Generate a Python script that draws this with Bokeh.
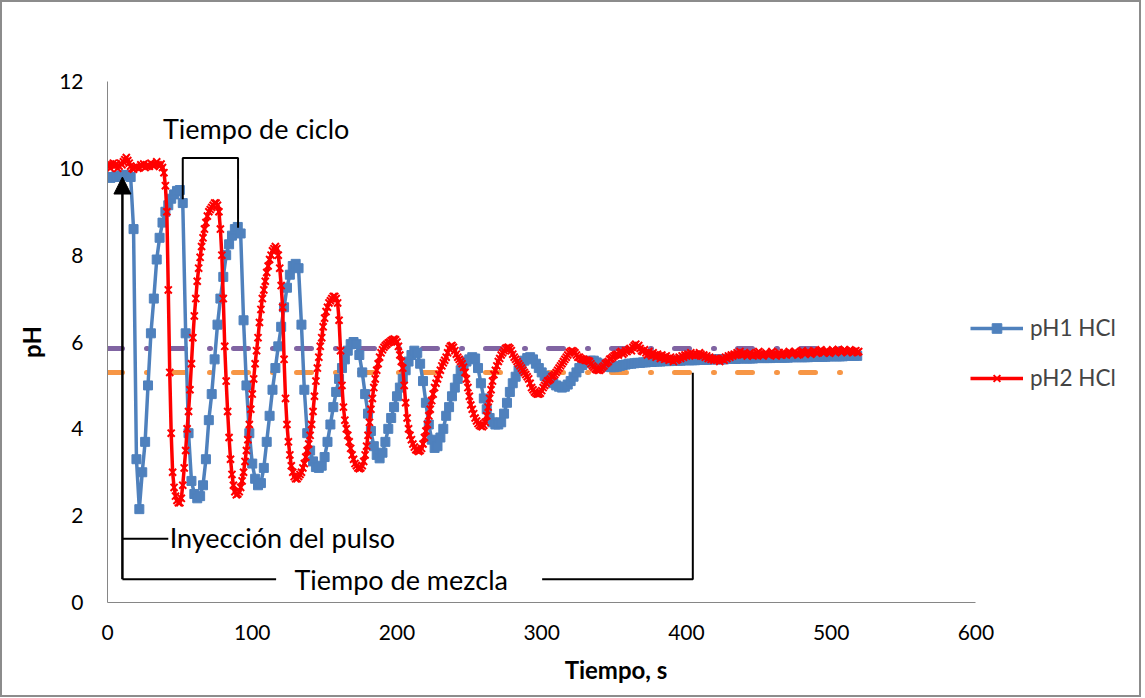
from bokeh.plotting import figure
from bokeh.models import Legend, LegendItem, FixedTicker, Arrow, NormalHead, Range1d
from bokeh.embed import file_html
from bokeh.resources import INLINE
from bokeh.core.properties import value

FONT = "Lato"

# pH1 HCl, one reading every 2 s starting at t = 0
ph1_hcl = [
    9.80, 9.78, 9.80, 9.82, 9.80, 9.84, 9.85, 9.83, 9.80, 8.60,
    3.30, 2.15, 3.00, 3.70, 5.00, 6.20, 7.00, 7.90, 8.40, 8.75,
    9.00, 9.15, 9.30, 9.40, 9.48, 9.50, 9.20, 6.20, 3.90, 2.80,
    2.50, 2.40, 2.45, 2.70, 3.30, 4.20, 4.80, 5.60, 6.40, 7.00,
    7.50, 8.00, 8.25, 8.45, 8.60, 8.65, 8.50, 6.50, 5.00, 3.90,
    3.20, 2.85, 2.70, 2.75, 3.10, 3.70, 4.30, 4.90, 5.40, 5.90,
    6.35, 6.80, 7.25, 7.55, 7.75, 7.80, 7.70, 6.40, 4.90, 3.90,
    3.50, 3.25, 3.12, 3.10, 3.15, 3.35, 3.70, 4.10, 4.50, 4.85,
    5.15, 5.40, 5.60, 5.80, 5.95, 6.00, 5.95, 5.70, 5.30, 4.80,
    4.35, 3.95, 3.60, 3.40, 3.32, 3.45, 3.70, 4.00, 4.25, 4.50,
    4.75, 4.95, 5.15, 5.35, 5.55, 5.70, 5.80, 5.75, 5.50, 5.10,
    4.60, 4.10, 3.75, 3.56, 3.60, 3.80, 4.00, 4.30, 4.50, 4.75,
    4.95, 5.15, 5.35, 5.48, 5.55, 5.60, 5.65, 5.62, 5.40, 5.05,
    4.70, 4.45, 4.25, 4.15, 4.10, 4.10, 4.15, 4.35, 4.60, 4.85,
    5.05, 5.20, 5.35, 5.48, 5.57, 5.63, 5.65, 5.60, 5.50, 5.40,
    5.30, 5.22, 5.18, 5.10, 5.05, 5.00, 4.97, 4.95, 4.97, 5.02,
    5.10, 5.20, 5.30, 5.40, 5.47, 5.52, 5.55, 5.57, 5.57, 5.53,
    5.50, 5.47, 5.45, 5.43, 5.42, 5.42, 5.43, 5.45, 5.47, 5.48,
    5.50, 5.50, 5.51, 5.52, 5.52, 5.53, 5.53, 5.54, 5.54, 5.55,
    5.55, 5.55, 5.56, 5.56, 5.56, 5.57, 5.57, 5.57, 5.57, 5.58,
    5.58, 5.58, 5.58, 5.58, 5.59, 5.59, 5.59, 5.59, 5.60, 5.60,
    5.60, 5.60, 5.60, 5.60, 5.61, 5.61, 5.61, 5.61, 5.62, 5.62,
    5.62, 5.62, 5.62, 5.62, 5.63, 5.63, 5.63, 5.63, 5.63, 5.63,
    5.64, 5.64, 5.64, 5.64, 5.64, 5.64, 5.65, 5.65, 5.65, 5.65,
    5.65, 5.65, 5.65, 5.66, 5.66, 5.66, 5.66, 5.66, 5.66, 5.67,
    5.67, 5.67, 5.67, 5.67, 5.67, 5.68, 5.68, 5.68, 5.68, 5.68,
]
time_ph1 = [2 * i for i in range(len(ph1_hcl))]

# pH2 HCl, one reading every second starting at t = 0
ph2_hcl = [
    10.05, 10.10, 10.00, 10.08, 10.12, 10.05, 10.10, 10.00, 10.05, 10.12,
    10.08, 10.15, 10.20, 10.25, 10.18, 10.12, 10.05, 10.00, 9.98, 10.02,
    10.05, 10.00, 10.02, 10.08, 10.05, 10.10, 10.02, 10.05, 10.08, 10.05,
    10.12, 10.08, 10.05, 10.10, 10.15, 10.08, 10.05, 10.10, 10.02, 9.90,
    9.60, 9.00, 7.20, 5.30, 3.90, 3.00, 2.65, 2.45, 2.35, 2.30,
    2.30, 2.40, 2.70, 3.10, 3.50, 4.00, 4.40, 4.90, 5.50, 6.10,
    6.60, 7.00, 7.40, 7.70, 7.95, 8.20, 8.40, 8.60, 8.75, 8.90,
    9.00, 9.05, 9.10, 9.15, 9.20, 9.20, 9.15, 9.00, 8.60, 8.00,
    7.00, 5.90, 5.10, 4.40, 3.80, 3.30, 2.95, 2.70, 2.55, 2.48,
    2.50, 2.55, 2.65, 2.80, 3.00, 3.25, 3.50, 3.75, 4.10, 4.45,
    4.80, 5.15, 5.50, 5.80, 6.10, 6.45, 6.75, 7.00, 7.20, 7.40,
    7.60, 7.75, 7.90, 8.00, 8.10, 8.15, 8.20, 8.15, 8.00, 7.70,
    7.30, 6.80, 5.60, 4.70, 4.10, 3.70, 3.40, 3.15, 3.00, 2.90,
    2.85, 2.85, 2.90, 2.95, 3.00, 3.10, 3.20, 3.35, 3.50, 3.65,
    3.85, 4.10, 4.40, 4.75, 5.10, 5.40, 5.65, 5.90, 6.10, 6.35,
    6.55, 6.70, 6.80, 6.90, 6.95, 7.00, 7.05, 7.05, 7.00, 6.90,
    6.50, 5.80, 5.00, 4.50, 4.20, 4.00, 3.85, 3.70, 3.55, 3.40,
    3.30, 3.20, 3.15, 3.10, 3.08, 3.10, 3.15, 3.25, 3.40, 3.60,
    3.85, 4.15, 4.45, 4.70, 4.95, 5.15, 5.35, 5.50, 5.65, 5.75,
    5.82, 5.88, 5.92, 5.95, 5.98, 6.00, 6.03, 6.05, 6.07, 6.05,
    6.00, 5.90, 5.70, 5.55, 5.40, 5.00, 4.60, 4.25, 4.00, 3.85,
    3.75, 3.65, 3.58, 3.52, 3.50, 3.48, 3.50, 3.55, 3.65, 3.80,
    3.95, 4.10, 4.30, 4.45, 4.65, 4.80, 4.95, 5.05, 5.15, 5.25,
    5.35, 5.45, 5.52, 5.58, 5.65, 5.75, 5.85, 5.90, 5.92, 5.88,
    5.80, 5.72, 5.65, 5.60, 5.55, 5.50, 5.42, 5.30, 5.15, 4.95,
    4.75, 4.55, 4.45, 4.35, 4.25, 4.18, 4.12, 4.08, 4.06, 4.05,
    4.08, 4.15, 4.30, 4.50, 4.70, 4.90, 5.10, 5.25, 5.35, 5.45,
    5.55, 5.62, 5.70, 5.75, 5.80, 5.85, 5.87, 5.88, 5.85, 5.80,
    5.72, 5.65, 5.60, 5.55, 5.50, 5.45, 5.40, 5.35, 5.30, 5.25,
    5.20, 5.15, 5.05, 4.95, 4.90, 4.85, 4.82, 4.80, 4.80, 4.82,
    4.88, 4.95, 5.00, 5.05, 5.10, 5.12, 5.15, 5.20, 5.22, 5.25,
    5.30, 5.35, 5.40, 5.45, 5.50, 5.55, 5.60, 5.65, 5.70, 5.75,
    5.78, 5.80, 5.78, 5.75, 5.70, 5.65, 5.65, 5.62, 5.60, 5.60,
    5.58, 5.58, 5.57, 5.55, 5.50, 5.45, 5.42, 5.38, 5.36, 5.35,
    5.35, 5.38, 5.42, 5.45, 5.50, 5.52, 5.55, 5.60, 5.62, 5.65,
    5.68, 5.70, 5.72, 5.70, 5.75, 5.78, 5.72, 5.75, 5.80, 5.78,
    5.82, 5.85, 5.80, 5.88, 5.92, 5.95, 5.88, 5.92, 5.85, 5.80,
    5.78, 5.82, 5.75, 5.70, 5.78, 5.72, 5.68, 5.75, 5.70, 5.65,
    5.72, 5.68, 5.62, 5.70, 5.65, 5.60, 5.68, 5.62, 5.58, 5.65,
    5.60, 5.55, 5.62, 5.58, 5.60, 5.65, 5.62, 5.68, 5.65, 5.70,
    5.68, 5.72, 5.70, 5.75, 5.70, 5.72, 5.68, 5.72, 5.70, 5.75,
    5.72, 5.68, 5.70, 5.65, 5.68, 5.62, 5.65, 5.60, 5.62, 5.58,
    5.62, 5.58, 5.60, 5.55, 5.60, 5.62, 5.58, 5.65, 5.62, 5.68,
    5.65, 5.70, 5.68, 5.72, 5.70, 5.75, 5.72, 5.78, 5.72, 5.70,
    5.75, 5.72, 5.68, 5.72, 5.75, 5.70, 5.68, 5.72, 5.70, 5.75,
    5.78, 5.72, 5.70, 5.68, 5.72, 5.75, 5.72, 5.70, 5.74, 5.78,
    5.72, 5.70, 5.68, 5.72, 5.76, 5.72, 5.70, 5.75, 5.72, 5.70,
    5.74, 5.78, 5.75, 5.72, 5.75, 5.78, 5.74, 5.70, 5.72, 5.76,
    5.80, 5.76, 5.72, 5.75, 5.78, 5.74, 5.72, 5.76, 5.80, 5.78,
    5.74, 5.76, 5.80, 5.82, 5.78, 5.75, 5.78, 5.80, 5.76, 5.74,
    5.78, 5.82, 5.78, 5.76, 5.80, 5.83, 5.80, 5.76, 5.78, 5.82,
    5.80, 5.76, 5.78, 5.82, 5.80, 5.76, 5.78, 5.80, 5.76, 5.78,
]
time_ph2 = list(range(len(ph2_hcl)))

# horizontal reference levels (purple, orange)
ref_time = [0, 520]
ref_purple = [5.85, 5.85]
ref_orange = [5.30, 5.30]

x_ticks = [0, 100, 200, 300, 400, 500, 600]
y_ticks = [0, 2, 4, 6, 8, 10, 12]

BLUE = "#4F81BD"
RED = "#FF0000"
PURPLE = "#8064A2"
ORANGE = "#F79646"

# layout: frame spans 0..600 s over 865 px; extra room on the right holds the legend
BORDER = 2
FIG_W, FIG_H = 1137, 693
LEFT, RIGHT, TOP, BOTTOM = 105, 19, 79, 97
frame_w = FIG_W - LEFT - RIGHT
x_end = 600 * frame_w / 865

p = figure(width=FIG_W, height=FIG_H, output_backend="svg", toolbar_location=None,
           x_range=Range1d(0, x_end), y_range=Range1d(0, 12),
           min_border_left=LEFT, min_border_right=RIGHT, min_border_top=TOP,
           min_border_bottom=BOTTOM)
p.styles = {"border": f"{BORDER}px solid #8c8c8c", "box-sizing": "content-box"}
p.outline_line_color = None
p.grid.visible = False
p.background_fill_color = "white"
p.border_fill_color = "white"

for ax in (p.xaxis[0], p.yaxis[0]):
    ax.axis_line_color = "#868686"
    ax.axis_line_width = 1
    ax.major_tick_line_color = None
    ax.minor_tick_line_color = None
    ax.major_tick_out = 0
    ax.major_tick_in = 0
    ax.major_label_text_font = FONT
    ax.major_label_text_font_size = "21px"
    ax.major_label_text_color = "black"
    ax.axis_label_text_font = FONT
    ax.axis_label_text_font_size = "24px"
    ax.axis_label_text_font_style = "bold"
    ax.axis_label_text_color = "black"

p.xaxis.ticker = FixedTicker(ticks=x_ticks)
p.yaxis.ticker = FixedTicker(ticks=y_ticks)
p.xaxis.bounds = (0, 600)
p.xaxis.axis_label = "Tiempo, s"
p.yaxis.axis_label = "pH"
p.xaxis.major_label_standoff = 22
p.xaxis.axis_label_standoff = 12
p.yaxis.major_label_standoff = 24
p.yaxis.axis_label_standoff = 10

# reference lines
p.line(ref_time, ref_purple, line_color=PURPLE, line_width=5, line_dash="15 24 1 23", line_cap="round")
p.line(ref_time, ref_orange, line_color=ORANGE, line_width=5, line_dash="15 24 1 23", line_cap="round")

# series
l1 = p.line(time_ph1, ph1_hcl, line_color=BLUE, line_width=3.5)
s1 = p.scatter(time_ph1, ph1_hcl, marker="square", size=9, fill_color=BLUE, line_color=BLUE)
l2 = p.line(time_ph2, ph2_hcl, line_color=RED, line_width=3.5)
s2 = p.scatter(time_ph2, ph2_hcl, marker="x", size=10, line_color=RED, line_width=2)

# annotations
ANN_COLOR = "black"
arrow_x = 10.3
p.add_layout(Arrow(end=NormalHead(size=17, fill_color=ANN_COLOR, line_color=ANN_COLOR),
                   x_start=arrow_x, y_start=0.534, x_end=arrow_x, y_end=9.80,
                   line_color=ANN_COLOR, line_width=2.5))
p.multi_line(
    xs=[[52.0, 52.0, 90.2, 90.2], [arrow_x, 42.0], [arrow_x, 116.5], [300.3, 404.4, 404.4]],
    ys=[[9.29, 10.24, 10.24, 8.63], [1.47, 1.47], [0.534, 0.534], [0.534, 0.534, 5.29]],
    line_color=ANN_COLOR, line_width=2)
p.text(x=[102.7, 202.9], y=[10.91, 0.534], text=["Tiempo de ciclo", "Tiempo de mezcla"],
       text_font=value(FONT), text_font_size="27px", text_align="center",
       text_baseline="middle", text_color="black")
p.text(x=[43.0], y=[1.49], text=["Inyección del pulso"],
       text_font=value(FONT), text_font_size="27px", text_align="left",
       text_baseline="middle", text_color="black")

legend = Legend(items=[LegendItem(label="pH1 HCl", renderers=[l1, s1]),
                       LegendItem(label="pH2 HCl", renderers=[l2, s2])],
                location=(863, 211), orientation="vertical",
                glyph_width=53, glyph_height=24, label_height=24, spacing=23,
                label_standoff=7, padding=0, margin=0,
                label_text_font=FONT, label_text_font_size="22.5px",
                border_line_color=None, background_fill_alpha=0)
p.add_layout(legend, "center")

open("out.html", "w").write(file_html(p, INLINE))
